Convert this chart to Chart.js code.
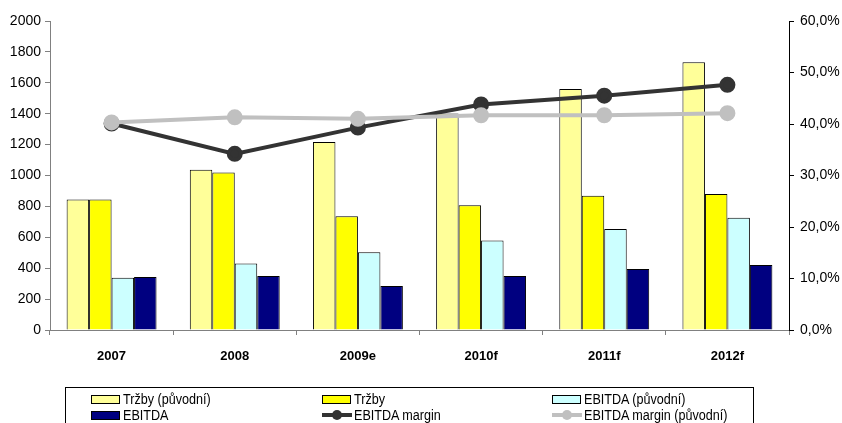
<!DOCTYPE html>
<html>
<head>
<meta charset="utf-8">
<script src="https://cdn.jsdelivr.net/npm/chart.js@4"></script>
<style>
  html, body { margin: 0; padding: 0; background: #fff; }
  #wrap { position: relative; width: 842px; height: 423px; overflow: hidden; }
  #legend { position: absolute; left: 65px; top: 387px; width: 689px; height: 60px;
    border: 1px solid #000; box-sizing: border-box;
    font: 14px "Liberation Sans", Arial, sans-serif; color: #000; }
  .item { position: absolute; display: flex; align-items: center; height: 16px; white-space: nowrap; }
  .txt { display: inline-block; transform: scaleX(0.9); transform-origin: left center; }
  .sw { width: 29px; height: 9px; border: 1px solid #000; margin-right: 3px; box-sizing: border-box; }
  .ln { position: relative; width: 30px; height: 10px; margin-right: 2px; }
  .ln::before { content: ""; position: absolute; left: 0; right: 0; top: 3px; height: 4px; background: var(--c); }
  .ln::after { content: ""; position: absolute; left: 10px; top: 0; width: 10px; height: 10px; border-radius: 50%; background: var(--c); }
</style>
</head>
<body>
<div id="wrap">
  <canvas id="chart" width="842" height="423"></canvas>
  <div id="legend"></div>
</div>
<script>
const years = ["2007", "2008", "2009e", "2010f", "2011f", "2012f"];
const trzbyPuvodni = [845, 1037, 1217, 1402, 1560, 1733];
const trzby = [845, 1020, 736, 807, 869, 880];
const ebitdaPuvodni = [338, 431, 503, 580, 654, 727];
const ebitda = [343, 350, 285, 350, 395, 421];
const marginPct = [40.1, 34.2, 39.3, 43.8, 45.5, 47.6];
const marginPuvodniPct = [40.3, 41.3, 41.0, 41.7, 41.7, 42.1];

const FONT = "'Liberation Sans', Arial, sans-serif";

const bar = (label, data, color) => ({
  type: "bar", label, data, backgroundColor: color, borderColor: "#000", borderWidth: 1,
  yAxisID: "y", order: 2, categoryPercentage: 0.73, barPercentage: 1.0,
});
const line = (label, data, color, order) => ({
  type: "line", label, data, borderColor: color, backgroundColor: color, borderWidth: 4,
  pointRadius: 6, pointBackgroundColor: color, pointBorderColor: color,
  yAxisID: "y1", order, tension: 0,
});

const datasets = [
  bar("Tržby (původní)", trzbyPuvodni, "#FFFF99"),
  bar("Tržby", trzby, "#FFFF00"),
  bar("EBITDA (původní)", ebitdaPuvodni, "#CCFFFF"),
  bar("EBITDA", ebitda, "#000080"),
  line("EBITDA margin", marginPct, "#333333", 1),
  line("EBITDA margin (původní)", marginPuvodniPct, "#C0C0C0", 0),
];

new Chart(document.getElementById("chart"), {
  data: { labels: years, datasets },
  options: {
    responsive: false, animation: false, events: [],
    layout: { padding: { top: 21, bottom: 53, left: 0, right: 0 } },
    plugins: { legend: { display: false }, tooltip: { enabled: false } },
    scales: {
      x: {
        grid: { display: true, drawOnChartArea: false, offset: true, color: "#808080", tickLength: 5 },
        border: { color: "#808080", width: 1 },
        ticks: { color: "#000", font: { family: FONT, size: 13, weight: "bold" }, padding: 14 },
        afterFit: (s) => { s.height = 40; },
      },
      y: {
        position: "left", min: 0, max: 2000,
        ticks: { stepSize: 200, color: "#000", font: { family: FONT, size: 14 }, padding: 4,
          callback: (v) => String(v) },
        grid: { drawOnChartArea: false, color: "#808080", tickLength: 5 },
        border: { color: "#808080", width: 1 },
        afterFit: (s) => { s.width = 50; },
      },
      y1: {
        position: "right", min: 0, max: 60,
        ticks: { stepSize: 10, color: "#000", font: { family: FONT, size: 14 }, padding: 6,
          callback: (v) => v.toFixed(1).replace(".", ",") + "%" },
        grid: { drawOnChartArea: false, color: "#000", tickLength: 5 },
        border: { color: "#000", width: 1 },
        afterFit: (s) => { s.width = 53; },
      },
    },
  },
});

// legend laid out like the spreadsheet: three columns, two rows
const legend = document.getElementById("legend");
const cols = [25, 256, 486];
datasets.forEach((d, i) => {
  const item = document.createElement("div");
  item.className = "item";
  item.style.left = cols[i % 3] + "px";
  item.style.top = (i < 3 ? 3 : 19) + "px";
  const sw = document.createElement("span");
  if (d.type === "bar") { sw.className = "sw"; sw.style.background = d.backgroundColor; }
  else { sw.className = "ln"; sw.style.setProperty("--c", d.borderColor); }
  const txt = document.createElement("span");
  txt.className = "txt";
  txt.textContent = d.label;
  item.append(sw, txt);
  legend.append(item);
});
</script>
</body>
</html>
